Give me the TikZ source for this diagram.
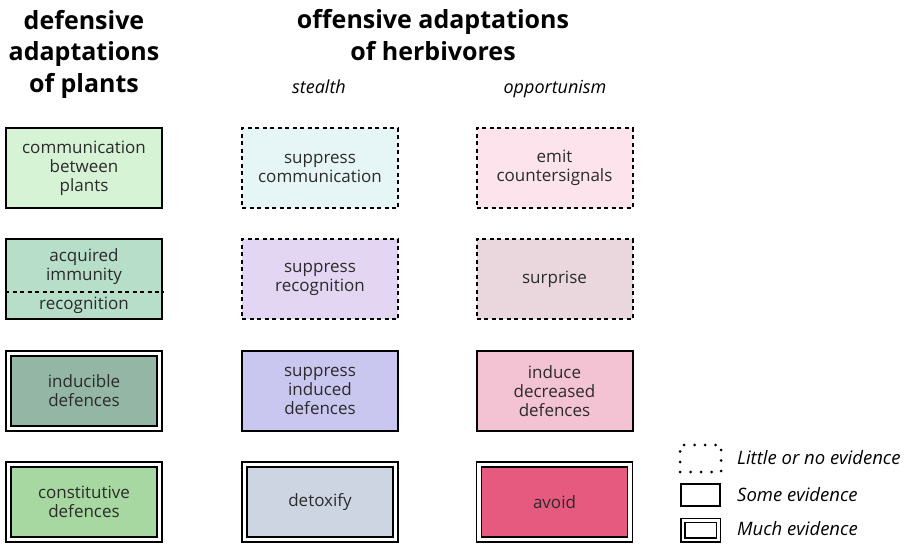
\documentclass[tikz,border=0pt]{standalone}
\usepackage{fontspec}
\setmainfont{Open Sans}
\definecolor{boxtext}{HTML}{2B2B2B}
\definecolor{commplant}{HTML}{D6F3D6}
\definecolor{immune}{HTML}{B6DEC9}
\definecolor{induce}{HTML}{94B6A4}
\definecolor{constit}{HTML}{A8D8A1}
\definecolor{supcomm}{HTML}{E6F6F6}
\definecolor{suprec}{HTML}{E2D6F3}
\definecolor{supind}{HTML}{C9C6EF}
\definecolor{detox}{HTML}{CDD5E3}
\definecolor{emit}{HTML}{FCE3EC}
\definecolor{surpr}{HTML}{EAD7DD}
\definecolor{decdef}{HTML}{F3C3D3}
\definecolor{avoidc}{HTML}{E65A80}
\begin{document}
\begin{tikzpicture}[x=1pt,y=-1pt,
  box/.style={minimum width=156pt,minimum height=80pt,inner sep=0pt,align=center,
    text=boxtext,font=\fontsize{17}{19}\selectfont},
  little/.style={box,draw,line width=2pt,dash pattern=on 4pt off 3.5pt},
  some/.style={box,draw,line width=2pt},
  much/.style={box,draw,line width=1.7pt,double=white,double distance=3.4pt,
    minimum width=151pt,minimum height=75pt},
  head/.style={font=\bfseries\fontsize{25}{31.5}\selectfont,align=center,anchor=base},
  strat/.style={font=\itshape\fontsize{18}{21}\selectfont,anchor=base},
  keytext/.style={font=\itshape\fontsize{18.5}{21}\selectfont,anchor=base west,inner sep=0pt}]
  \useasboundingbox (0,0) rectangle (906,546);

  % headings
  \node[head] (plants) at (84,92) {defensive\\adaptations\\of plants};
  \node[head] (herbs) at (433,60) {offensive adaptations\\of herbivores};
  \node[strat] (stealth) at (319,93) {stealth};
  \node[strat] (opport) at (555,93) {opportunism};

  % plants
  \node[some,fill=commplant] (comm) at (84,168) {communication\\between\\plants};
  \node[some,fill=immune] (immun) at (84,279) {};
  \node[box] (acq) at (84,267) {acquired\\immunity};
  \node[box,minimum height=0pt] (recog) at (84,305) {recognition};
  \draw[line width=2pt,dash pattern=on 4pt off 3.5pt]
    ([yshift=-13pt]immun.west) -- ([yshift=-13pt]immun.east);
  \node[much,fill=induce] (indu) at (84,391) {inducible\\defences};
  \node[much,fill=constit] (const) at (84,502) {constitutive\\defences};

  % stealth
  \node[little,fill=supcomm] (scomm) at (320,168) {suppress\\communication};
  \node[little,fill=suprec] (srec) at (320,279) {suppress\\recognition};
  \node[some,fill=supind] (sind) at (320,391) {suppress\\induced\\defences};
  \node[much,fill=detox] (detox) at (320,502) {detoxify};

  % opportunism
  \node[little,fill=emit] (emit) at (554.5,168) {emit\\countersignals};
  \node[little,fill=surpr] (surp) at (554.5,279) {surprise};
  \node[some,fill=decdef] (ddef) at (554.5,391) {induce\\decreased\\defences};
  \node[much,fill=avoidc] (avoid) at (554.5,502) {avoid};

  % key
  \node[draw,line width=3pt,line cap=round,dash pattern=on 0pt off 10.5pt,
    minimum width=41pt,minimum height=27pt,inner sep=0pt] (klittle) at (700.5,458.5) {};
  \node[draw,line width=1.6pt,minimum width=39pt,minimum height=22pt,inner sep=0pt]
    (ksome) at (700.5,495) {};
  \node[draw,line width=1.5pt,double=white,double distance=2.5pt,
    minimum width=35.5pt,minimum height=19.5pt,inner sep=0pt] (kmuch) at (700.5,530) {};
  \node[keytext] (tlittle) at (737,464) {Little or no evidence};
  \node[keytext] (tsome) at (737,501) {Some evidence};
  \node[keytext] (tmuch) at (737,535) {Much evidence};
\end{tikzpicture}
\end{document}
